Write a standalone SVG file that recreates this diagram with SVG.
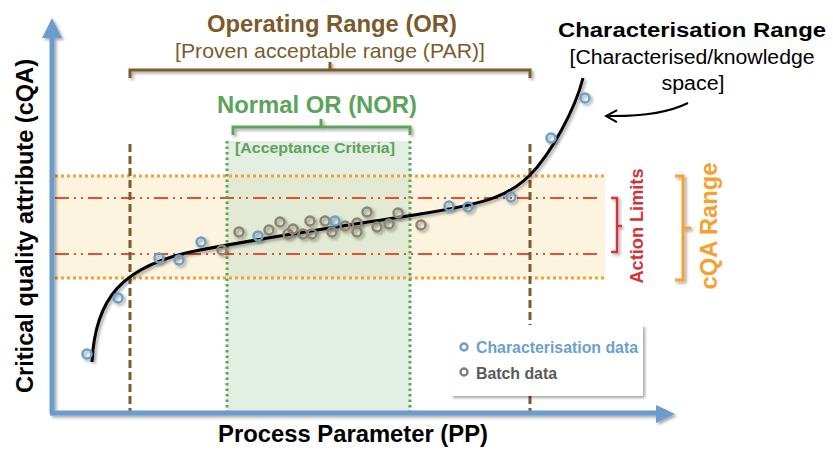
<svg xmlns="http://www.w3.org/2000/svg" width="833" height="450" viewBox="0 0 833 450">
<defs>
<filter id="sh" x="-20%" y="-20%" width="140%" height="140%">
<feDropShadow dx="2" dy="2" stdDeviation="1.5" flood-color="#000" flood-opacity="0.35"/>
</filter>
<marker id="ah" markerWidth="14" markerHeight="14" refX="12" refY="7" orient="auto" markerUnits="userSpaceOnUse">
<path d="M1 1 L12 7 L1 13" fill="none" stroke="#000" stroke-width="2"/>
</marker>
<style>
text{font-family:"Liberation Sans",Arial,sans-serif}
.b{font-weight:bold}
.cd{fill:none;stroke:#6c9fcb;stroke-width:2.5}
.bd{fill:none;stroke:#8c8474;stroke-width:2.5}
.org{fill:none;stroke:#f5a030;stroke-width:3;stroke-dasharray:3 3}
.red{fill:none;stroke:#e4502f;stroke-width:2;stroke-dasharray:14 5 2 5 2 5}
.grn{fill:none;stroke:#5ca35c;stroke-width:3;stroke-dasharray:2.5 3}
.brn{fill:none;stroke:#7b5b2c;stroke-width:3;stroke-dasharray:8 4}
</style>
</defs>
<rect width="833" height="450" fill="#fff"/>
<g id="regions">
<rect x="55" y="177" width="550" height="101" fill="#fdf4df"/>
<rect x="227" y="141" width="183" height="270" fill="#c8dfc8" fill-opacity="0.5"/>
<line class="org" x1="55" y1="176" x2="605" y2="176"/>
<line class="org" x1="55" y1="278" x2="605" y2="278"/>
<line class="red" x1="55" y1="198" x2="600" y2="198"/>
<line class="red" x1="55" y1="254" x2="600" y2="254"/>
<line class="grn" x1="227" y1="141" x2="227" y2="411"/>
<line class="grn" x1="410" y1="141" x2="410" y2="411"/>
<line class="brn" x1="130" y1="144" x2="130" y2="411"/>
<line class="brn" x1="530" y1="144" x2="530" y2="411"/>
</g>
<g id="connectors">
<path d="M92 362 C95 300 120 265 200 250 S350 225 420 214 S510 195 530 175 S575 110 583 78" fill="none" stroke="#000" stroke-width="3" filter="url(#sh)"/>
<path d="M688 103 Q660 117 606 116" fill="none" stroke="#000" stroke-width="2" marker-end="url(#ah)"/>
</g>
<g id="data" filter="url(#sh)">
<circle class="bd" cx="222" cy="250" r="4.5"/>
<circle class="bd" cx="239" cy="232" r="4.5"/>
<circle class="bd" cx="269" cy="230" r="4.5"/>
<circle class="bd" cx="280" cy="222" r="4.5"/>
<circle class="bd" cx="288" cy="234" r="4.5"/>
<circle class="bd" cx="293" cy="229" r="4.5"/>
<circle class="bd" cx="303" cy="234" r="4.5"/>
<circle class="bd" cx="312" cy="234" r="4.5"/>
<circle class="bd" cx="310" cy="221" r="4.5"/>
<circle class="bd" cx="325" cy="221" r="4.5"/>
<circle class="bd" cx="332" cy="232" r="4.5"/>
<circle class="bd" cx="345" cy="226" r="4.5"/>
<circle class="bd" cx="357" cy="223" r="4.5"/>
<circle class="bd" cx="357" cy="232" r="4.5"/>
<circle class="bd" cx="367" cy="212" r="4.5"/>
<circle class="bd" cx="377" cy="227" r="4.5"/>
<circle class="bd" cx="389" cy="224" r="4.5"/>
<circle class="bd" cx="398" cy="213" r="4.5"/>
<circle class="bd" cx="421" cy="225" r="4.5"/>
<circle class="cd" cx="87" cy="354" r="4.5"/>
<circle class="cd" cx="118" cy="298" r="4.5"/>
<circle class="cd" cx="159" cy="258" r="4.5"/>
<circle class="cd" cx="179" cy="260" r="4.5"/>
<circle class="cd" cx="201" cy="242" r="4.5"/>
<circle class="cd" cx="258" cy="236" r="4.5"/>
<circle class="cd" cx="335" cy="221" r="4.5"/>
<circle class="cd" cx="449" cy="206" r="4.5"/>
<circle class="cd" cx="468" cy="207" r="4.5"/>
<circle class="cd" cx="511" cy="197" r="4.5"/>
<circle class="cd" cx="551" cy="138" r="4.5"/>
<circle class="cd" cx="585" cy="98" r="4.5"/>
</g>
<g id="axes" filter="url(#sh)">
<path d="M52 413 V36" stroke="#6a9ccc" stroke-width="5" fill="none"/>
<path d="M42 38 L52 18 L62 38 Z" fill="#6a9ccc"/>
<path d="M50 413 H658" stroke="#6a9ccc" stroke-width="5" fill="none"/>
<path d="M656 405 L675 414 L656 423 Z" fill="#6a9ccc"/>
</g>
<g id="or-range">
<path d="M130 78 V70 H530 V78 M330 70 V62" fill="none" stroke="#7b5b2c" stroke-width="3" filter="url(#sh)"/>
<text class="b" x="332" y="32" font-size="24" fill="#7b5b2c" text-anchor="middle" textLength="250" lengthAdjust="spacingAndGlyphs">Operating Range (OR)</text>
<text x="330" y="58" font-size="21" fill="#7b5b2c" text-anchor="middle" textLength="310" lengthAdjust="spacingAndGlyphs">[Proven acceptable range (PAR)]</text>
</g>
<g id="nor-range">
<path d="M233 135 V127 H410 V135 M321 127 V119" fill="none" stroke="#5ca35c" stroke-width="3" filter="url(#sh)"/>
<text class="b" x="317" y="113" font-size="24" fill="#5ca35c" text-anchor="middle" textLength="200" lengthAdjust="spacingAndGlyphs">Normal OR (NOR)</text>
<text class="b" x="315" y="153" font-size="15" fill="#5ca35c" text-anchor="middle" textLength="160" lengthAdjust="spacingAndGlyphs">[Acceptance Criteria]</text>
</g>
<g id="char-range">
<text class="b" x="692" y="37" font-size="20" fill="#000" text-anchor="middle" textLength="268" lengthAdjust="spacingAndGlyphs">Characterisation Range</text>
<text x="692" y="64" font-size="20" fill="#000" text-anchor="middle" textLength="245" lengthAdjust="spacingAndGlyphs">[Characterised/knowledge</text>
<text x="693" y="90" font-size="20" fill="#000" text-anchor="middle" textLength="63" lengthAdjust="spacingAndGlyphs">space]</text>
</g>
<g id="action-limits">
<path d="M611 198 H617 V252 H611 M617 226 H622" fill="none" stroke="#d13438" stroke-width="2.5" filter="url(#sh)"/>
<text class="b" transform="translate(643,226) rotate(-90)" font-size="18" fill="#d13438" text-anchor="middle" textLength="115" lengthAdjust="spacingAndGlyphs">Action Limits</text>
</g>
<g id="cqa-range">
<path d="M675 176 H683 V280 H675 M683 228 H691" fill="none" stroke="#f5a030" stroke-width="3" filter="url(#sh)"/>
<text class="b" transform="translate(717,226) rotate(-90)" font-size="24" fill="#f5a030" text-anchor="middle" textLength="127" lengthAdjust="spacingAndGlyphs">cQA Range</text>
</g>
<g id="axis-labels">
<text class="b" transform="translate(33,226) rotate(-90)" font-size="23.5" fill="#000" text-anchor="middle" textLength="334" lengthAdjust="spacingAndGlyphs">Critical quality attribute (cQA)</text>
<text class="b" x="353" y="442" font-size="23.5" fill="#000" text-anchor="middle" textLength="270" lengthAdjust="spacingAndGlyphs">Process Parameter (PP)</text>
</g>
<g id="legend">
<rect x="451" y="325" width="192" height="71" fill="#fff" filter="url(#sh)"/>
<circle class="cd" cx="464" cy="347" r="3.5" stroke-width="2.5"/>
<circle class="bd" cx="464" cy="372" r="3.5" stroke-width="2.5" style="stroke:#808080"/>
<text class="b" x="476" y="353" font-size="16" fill="#6c9fcb" textLength="162" lengthAdjust="spacingAndGlyphs">Characterisation data</text>
<text class="b" x="476" y="379" font-size="16" fill="#595959" textLength="81" lengthAdjust="spacingAndGlyphs">Batch data</text>
</g>
</svg>
